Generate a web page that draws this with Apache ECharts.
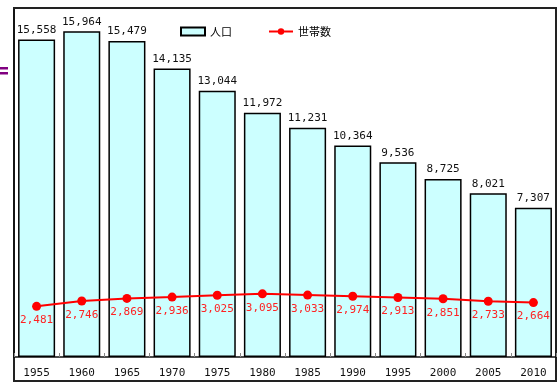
<!DOCTYPE html>
<html>
<head>
<meta charset="utf-8">
<script src="https://cdn.jsdelivr.net/npm/echarts@6/dist/echarts.min.js"></script>
<style>
  html, body { margin: 0; padding: 0; background: #fff; }
  #main { width: 559px; height: 383px; }
</style>
</head>
<body>
<div id="main"></div>
<script>
var chartDom = document.getElementById('main');
var myChart = echarts.init(chartDom);
var option;

const years = ['1955', '1960', '1965', '1970', '1975', '1980', '1985', '1990', '1995', '2000', '2005', '2010'];
const population = [15558, 15964, 15479, 14135, 13044, 11972, 11231, 10364, 9536, 8725, 8021, 7307];
const households = [2481, 2746, 2869, 2936, 3025, 3095, 3033, 2974, 2913, 2851, 2733, 2664];

const numFont = 'DejaVu Sans Mono';

function fmt(v) {
  return v.toLocaleString('en-US');
}

option = {
  animation: false,
  backgroundColor: '#fff',
  legend: {
    top: 21,
    left: 175,
    itemGap: 36,
    itemWidth: 24,
    itemHeight: 8,
    textStyle: { fontFamily: 'Noto Sans CJK JP', fontSize: 11, color: '#000' },
    data: [
      { name: '人口', icon: 'rect' },
      { name: '世帯数' }
    ]
  },
  grid: { left: 14, right: 3, top: 10, bottom: 26 },
  xAxis: {
    type: 'category',
    data: years,
    axisLine: { lineStyle: { color: '#111', width: 1.5 } },
    axisTick: { show: true, inside: true, length: 4, lineStyle: { color: '#888' } },
    axisLabel: { fontFamily: numFont, fontSize: 11, color: '#111', margin: 11 }
  },
  yAxis: {
    type: 'value',
    min: 0,
    max: 17000,
    axisLine: { show: true, lineStyle: { color: '#111', width: 1.5 } },
    axisTick: { show: false },
    axisLabel: { show: false },
    splitLine: { show: false }
  },
  series: [
    {
      name: '人口',
      type: 'bar',
      data: population,
      barCategoryGap: '18%',
      itemStyle: { color: '#ccffff', borderColor: '#000', borderWidth: 1.5 },
      label: {
        show: true,
        position: 'top',
        distance: 4,
        fontFamily: numFont,
        fontSize: 11,
        color: '#111',
        formatter: function (p) { return fmt(p.value); }
      }
    },
    {
      name: '世帯数',
      type: 'line',
      data: households,
      symbol: 'circle',
      symbolSize: 9,
      color: '#ff0000',
      lineStyle: { color: '#ff0000', width: 2 },
      itemStyle: { color: '#ff0000' },
      label: {
        show: true,
        position: 'bottom',
        distance: 4,
        fontFamily: numFont,
        fontSize: 11,
        color: '#ff2222',
        formatter: function (p) { return fmt(p.value); }
      }
    }
  ],
  graphic: [
    {
      type: 'rect',
      silent: true,
      shape: { x: 14, y: 8, width: 542, height: 373 },
      style: { fill: 'none', stroke: '#222', lineWidth: 2 }
    },
    {
      type: 'rect',
      silent: true,
      shape: { x: 0, y: 67, width: 8, height: 2.5 },
      style: { fill: '#800080' }
    },
    {
      type: 'rect',
      silent: true,
      shape: { x: 0, y: 72, width: 8, height: 2.5 },
      style: { fill: '#800080' }
    }
  ]
};

myChart.setOption(option);
</script>
</body>
</html>
